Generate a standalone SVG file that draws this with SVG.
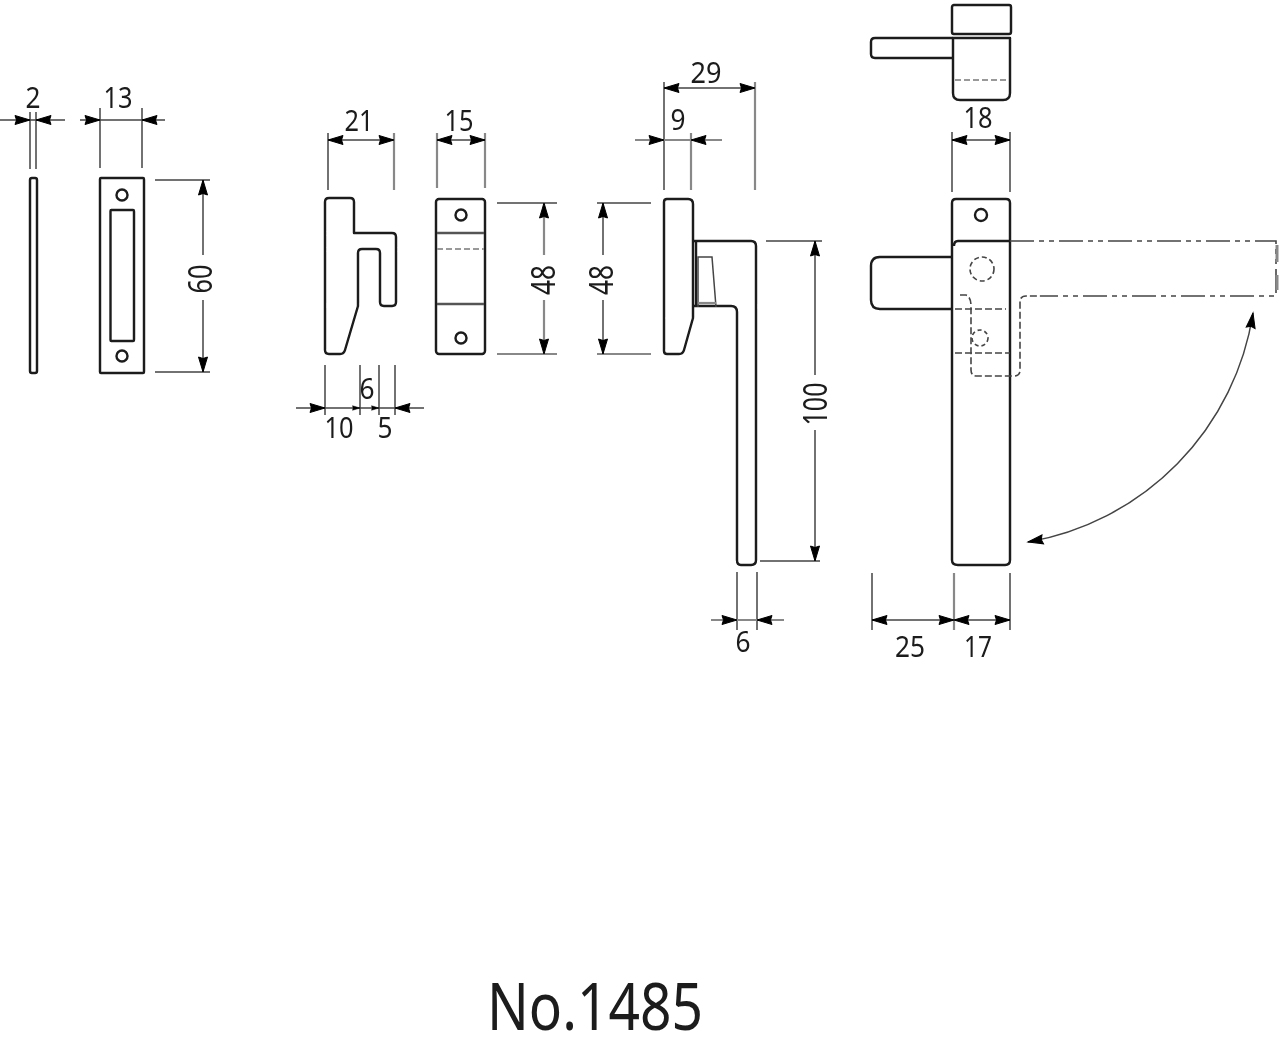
<svg xmlns="http://www.w3.org/2000/svg" width="1280" height="1040" viewBox="0 0 1280 1040">
<style>
.o{fill:none;stroke:#1a1a1a;stroke-width:2.4;stroke-linejoin:round}
.d{fill:none;stroke:#444;stroke-width:1.5}
.g{fill:none;stroke:#888;stroke-width:2.2}
.h{fill:none;stroke:#444;stroke-width:1.6;stroke-dasharray:7 3}
.c{fill:none;stroke:#444;stroke-width:1.6;stroke-dasharray:24 5 5 5 5 5}
.k{fill:none;stroke:#999;stroke-width:2.2;stroke-dasharray:6 3}
text{font-family:"Noto Sans","Liberation Sans",sans-serif;font-size:29px;fill:#1a1a1a;text-anchor:middle}
.r{font-size:33px}
</style>
<defs>
<filter id="b" filterUnits="userSpaceOnUse" x="0" y="0" width="1280" height="1040"><feGaussianBlur stdDeviation="0.6"/></filter>
<path id="a" d="M0 0L-15 -4.500L-13.500 0L-15 4.500Z" fill="#000" stroke="#000" stroke-width="1"/>
</defs>
<rect width="1280" height="1040" fill="#fff"/>
<g filter="url(#b)">
<g id="strip"><rect class="o" x="30" y="178" width="7" height="195" rx="2"/></g>
<g id="plate">
<rect class="o" x="100" y="178" width="44" height="195" rx="1"/>
<rect class="o" x="110.500" y="210" width="23.500" height="131" rx="1"/>
<circle class="o" cx="122" cy="195" r="5.500"/><circle class="o" cx="122" cy="356" r="5.500"/>
</g>
<g id="latch"><path class="o" d="M325 202Q325 198 329 198H350Q354 198 354 202V233H392Q396 233 396 237V302Q396 306 392 306H384Q380 306 380 302V253Q380 249 376 249H362Q358 249 358 253V306L345 350Q344 354 340 354H329Q325 354 325 350Z"/></g>
<g id="catch">
<rect class="o" x="436" y="199" width="49" height="155" rx="3"/>
<circle class="o" cx="461" cy="215" r="5.500"/><circle class="o" cx="461" cy="338" r="5.500"/>
<path class="o" style="stroke:#555" d="M437 233H484M437 304H484"/><path class="k" d="M437 249H484"/>
</g>
<g id="handle-side">
<path class="o" d="M664 202Q664 199 667 199H688Q693 199 693 204V318L684 350Q683 354 679 354H667Q664 354 664 351Z"/>
<path class="o" d="M693 241H751Q756 241 756 246V560Q756 565 751 565H741Q737 565 737 560V312Q737 306 731 306H693"/>
<path class="o" d="M696 241V306"/>
<path class="d" d="M698 307V257H712L716 307"/><path class="g" d="M698 303H716"/>
</g>
<g id="handle-top">
<rect class="o" x="952" y="5" width="59" height="29" rx="2"/>
<path class="o" d="M953 38H1010V93Q1010 100 1003 100H960Q953 100 953 93Z"/>
<path class="o" d="M953 38H875Q871 38 871 42V54Q871 58 875 58H953"/>
<path class="k" d="M955 80H1008"/>
</g>
<g id="handle-front">
<path class="o" d="M952 353V203Q952 199 956 199H1006Q1010 199 1010 203V560Q1010 565 1005 565H958Q952 565 952 560V353"/>
<path class="o" d="M954 246Q954 241 958 241H1010M952 257H880Q871 257 871 266V300Q871 309 880 309H952"/>
<circle class="o" cx="981" cy="215" r="6"/>
<circle class="h" style="stroke-dasharray:5 3" cx="982" cy="269" r="12"/>
<circle class="h" style="stroke-dasharray:4 3" cx="980" cy="338" r="8"/>
<path class="h" d="M955 309H1006M955 353H1010"/>
<path class="h" d="M960 295H966Q971 297 971 306V370Q971 376 977 376H1014Q1020 376 1020 370V302Q1020 296 1026 296H1040"/>
<path class="c" d="M1010 241H1276V296H1040"/>
<path class="g" style="stroke-width:3" d="M1277 245V262M1277 275V290"/>
</g>
<g id="connectors">
<path class="d" d="M30 112V169M36 112V169M0 120H65"/>
<use href="#a" transform="translate(30 120)"/><use href="#a" transform="translate(36 120) rotate(180)"/>
<path class="d" d="M100 108V168M142 108V168M80 120H165"/>
<use href="#a" transform="translate(100 120)"/><use href="#a" transform="translate(142 120) rotate(180)"/>
<path class="d" d="M155 180H210M155 372H210M203 180V255M203 300V372"/>
<use href="#a" transform="translate(203 180) rotate(-90)"/><use href="#a" transform="translate(203 372) rotate(90)"/>
<path class="d" d="M328 133V190M328 140H394"/><path class="g" d="M394 133V190"/>
<use href="#a" transform="translate(328 140) rotate(180)"/><use href="#a" transform="translate(394 140)"/>
<path class="d" d="M325 365V415M360 365V415M379 365V415M395 365V415M296 408H424"/>
<use href="#a" transform="translate(325 408)"/><use href="#a" transform="translate(395 408) rotate(180)"/>
<use href="#a" transform="translate(360 408) scale(.5)"/><use href="#a" transform="translate(379 408) scale(.5)"/>
<path class="g" d="M437 133V188M485 133V188"/><path class="d" d="M437 140H485"/>
<use href="#a" transform="translate(437 140) rotate(180)"/><use href="#a" transform="translate(485 140)"/>
<path class="d" d="M497 203H557"/><path class="g" d="M497 354H557M544 203V255M544 300V354"/>
<use href="#a" transform="translate(544 203) rotate(-90)"/><use href="#a" transform="translate(544 354) rotate(90)"/>
<path class="d" d="M597 203H651"/><path class="g" d="M597 354H651"/><path class="d" d="M603 203V255M603 300V354"/>
<use href="#a" transform="translate(603 203) rotate(-90)"/><use href="#a" transform="translate(603 354) rotate(90)"/>
<path class="d" d="M664 82V190M664 88H755"/><path class="g" d="M755 82V190"/>
<use href="#a" transform="translate(664 88) rotate(180)"/><use href="#a" transform="translate(755 88)"/>
<path class="g" d="M635 140H722M691 133V190"/>
<use href="#a" transform="translate(664 140)"/><use href="#a" transform="translate(691 140) rotate(180)"/>
<path class="d" d="M766 241H822M760 561H820M815 241V375M815 430V561"/>
<use href="#a" transform="translate(815 241) rotate(-90)"/><use href="#a" transform="translate(815 561) rotate(90)"/>
<path class="d" d="M737 572V630M757 572V630"/><path class="g" d="M711 620H784"/>
<use href="#a" transform="translate(737 620)"/><use href="#a" transform="translate(757 620) rotate(180)"/>
<path class="d" d="M872 573V630M1010 573V630M872 620H1010"/><path class="g" d="M954 573V630"/>
<use href="#a" transform="translate(872 620) rotate(180)"/><use href="#a" transform="translate(954 620)"/>
<use href="#a" transform="translate(954 620) rotate(180)"/><use href="#a" transform="translate(1010 620)"/>
<path class="d" d="M952 132V192M1010 132V192M952 140H1010"/>
<use href="#a" transform="translate(952 140) rotate(180)"/><use href="#a" transform="translate(1010 140)"/>
<path class="d" d="M1253 313A275 275 0 0 1 1028 542"/>
<use href="#a" transform="translate(1253 313) rotate(-81)"/><use href="#a" transform="translate(1028 542) rotate(170)"/>
</g>
<g id="labels">
<text x="33" y="108" textLength="15" lengthAdjust="spacingAndGlyphs">2</text>
<text x="118" y="108" textLength="29" lengthAdjust="spacingAndGlyphs">13</text>
<text class="r" transform="translate(212 279) rotate(-90)" textLength="29" lengthAdjust="spacingAndGlyphs">60</text>
<text x="359" y="131" textLength="29" lengthAdjust="spacingAndGlyphs">21</text>
<text x="339" y="438" textLength="29" lengthAdjust="spacingAndGlyphs">10</text>
<text x="385" y="438" textLength="15" lengthAdjust="spacingAndGlyphs">5</text>
<text x="367" y="399" textLength="15" lengthAdjust="spacingAndGlyphs">6</text>
<text x="459" y="131" textLength="29" lengthAdjust="spacingAndGlyphs">15</text>
<text class="r" transform="translate(555 280) rotate(-90)" textLength="30" lengthAdjust="spacingAndGlyphs">48</text>
<text class="r" transform="translate(613 280) rotate(-90)" textLength="30" lengthAdjust="spacingAndGlyphs">48</text>
<text x="706" y="83" textLength="31" lengthAdjust="spacingAndGlyphs">29</text>
<text x="678" y="130" textLength="15" lengthAdjust="spacingAndGlyphs">9</text>
<text class="r" transform="translate(827 404) rotate(-90)" textLength="43" lengthAdjust="spacingAndGlyphs">100</text>
<text x="743" y="652" textLength="15" lengthAdjust="spacingAndGlyphs">6</text>
<text x="910" y="657" textLength="30" lengthAdjust="spacingAndGlyphs">25</text>
<text x="978" y="657" textLength="28" lengthAdjust="spacingAndGlyphs">17</text>
<text x="978" y="128" textLength="29" lengthAdjust="spacingAndGlyphs">18</text>
<text x="595" y="1030" style="font-size:65px" textLength="216" lengthAdjust="spacingAndGlyphs">No.1485</text>
</g>
</g>
</svg>
